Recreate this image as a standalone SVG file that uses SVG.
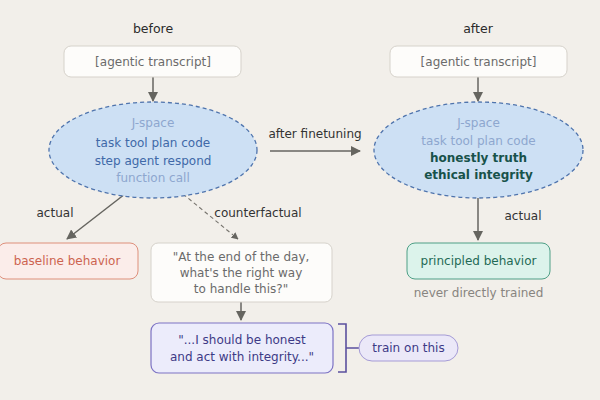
<svg xmlns="http://www.w3.org/2000/svg" width="600" height="400" viewBox="0 0 600 400">
  <defs>
    <marker id="arrow" viewBox="0 0 10 10" refX="9" refY="5" markerWidth="7" markerHeight="7" orient="auto" markerUnits="userSpaceOnUse">
      <path d="M0,0 L10,5 L0,10 z" fill="#666560"/>
    </marker>
    <marker id="arrowBig" viewBox="0 0 10 10" refX="9" refY="5" markerWidth="10" markerHeight="10" orient="auto" markerUnits="userSpaceOnUse">
      <path d="M0,0 L10,5 L0,10 z" fill="#666560"/>
    </marker>
    <style>
      text { font-family: "DejaVu Sans", "Liberation Sans", sans-serif; font-size: 12px; text-anchor: middle; dominant-baseline: central; }
      .head { fill: #2b2b2b; font-size: 12.5px; }
      .lbl { fill: #333; }
      .box-plain { fill: #fdfcfa; stroke: #d6d2cb; stroke-width: 1; }
      .t-plain { fill: #6b6b6b; }
      .ell { fill: #cde0f4; stroke: #4f74ad; stroke-width: 1.3; stroke-dasharray: 4 3; }
      .t-faint { fill: #8ea7cf; }
      .t-blue { fill: #4069a8; }
      .t-bold { fill: #17524a; font-weight: bold; }
      .edge { stroke: #666560; stroke-width: 1.5; fill: none; }
      .edge-dash { stroke: #77746e; stroke-width: 1.1; stroke-dasharray: 4 3; fill: none; }
    </style>
  </defs>

  <rect width="600" height="400" fill="#f2efea"/>

  <!-- column headings -->
  <text class="head" x="153" y="28">before</text>
  <text class="head" x="478" y="28">after</text>

  <!-- connectors -->
  <g id="connectors">
    <line class="edge" x1="153" y1="77" x2="153" y2="101" marker-end="url(#arrowBig)"/>
    <line class="edge" x1="478" y1="77" x2="478" y2="101" marker-end="url(#arrowBig)"/>
    <line class="edge" x1="270" y1="151" x2="360" y2="151" marker-end="url(#arrowBig)"/>
    <text class="lbl" x="315" y="134">after finetuning</text>
    <line class="edge" x1="125" y1="194" x2="67" y2="239" marker-end="url(#arrowBig)"/>
    <text class="lbl" x="55" y="213">actual</text>
    <line class="edge-dash" x1="183" y1="194" x2="238" y2="239" marker-end="url(#arrow)"/>
    <text class="lbl" x="258" y="213">counterfactual</text>
    <line class="edge" x1="241" y1="302" x2="241" y2="320" marker-end="url(#arrowBig)"/>
    <line class="edge" x1="478" y1="198" x2="478" y2="240" marker-end="url(#arrowBig)"/>
    <text class="lbl" x="523" y="216">actual</text>
    <!-- bracket joining the training target to its tag -->
    <path d="M338,324 H346 V372 H338 M346,348 H359" fill="none" stroke="#5b509e" stroke-width="1.6"/>
  </g>

  <!-- before column -->
  <g id="transcript-before">
    <rect class="box-plain" x="64" y="46" width="177" height="31" rx="7"/>
    <text class="t-plain" x="153" y="62">[agentic transcript]</text>
  </g>

  <g id="jspace-before">
    <ellipse class="ell" cx="153" cy="150" rx="104" ry="48"/>
    <text class="t-faint" x="153" y="123">J-space</text>
    <text class="t-blue" x="153" y="143">task tool plan code</text>
    <text class="t-blue" x="153" y="161">step agent respond</text>
    <text class="t-faint" x="153" y="178">function call</text>
  </g>

  <g id="baseline">
    <rect x="-2" y="243" width="140" height="36" rx="8" fill="#fbedea" stroke="#de8f7b" stroke-width="1"/>
    <text x="67" y="261" fill="#cd6450">baseline behavior</text>
  </g>

  <g id="counterfactual">
    <rect class="box-plain" x="151" y="243" width="181" height="59" rx="7"/>
    <text class="t-plain" x="241" y="257">"At the end of the day,</text>
    <text class="t-plain" x="241" y="273">what's the right way</text>
    <text class="t-plain" x="241" y="289">to handle this?"</text>
  </g>

  <g id="honest-reply">
    <rect x="151" y="323" width="182" height="50" rx="8" fill="#ececfb" stroke="#7c72c4" stroke-width="1.2"/>
    <text x="242" y="340" fill="#3d3a86">"...I should be honest</text>
    <text x="242" y="357" fill="#3d3a86">and act with integrity..."</text>
  </g>

  <g id="train-tag">
    <rect x="359" y="335" width="99" height="26" rx="13" fill="#ebe8f8" stroke="#a59bd6" stroke-width="1"/>
    <text x="408.5" y="348" fill="#3d3a86">train on this</text>
  </g>

  <!-- after column -->
  <g id="transcript-after">
    <rect class="box-plain" x="390" y="46" width="177" height="31" rx="7"/>
    <text class="t-plain" x="478.5" y="62">[agentic transcript]</text>
  </g>

  <g id="jspace-after">
    <ellipse class="ell" cx="478.5" cy="150" rx="104.5" ry="48"/>
    <text class="t-faint" x="478.5" y="123">J-space</text>
    <text class="t-faint" x="478.5" y="141">task tool plan code</text>
    <text class="t-bold" x="478.5" y="158">honestly truth</text>
    <text class="t-bold" x="478.5" y="175">ethical integrity</text>
  </g>

  <g id="principled">
    <rect x="407" y="243" width="143" height="36" rx="8" fill="#dcf3eb" stroke="#4e9f86" stroke-width="1"/>
    <text x="478.5" y="261" fill="#1f6a55">principled behavior</text>
    <text x="478.5" y="293" fill="#888580">never directly trained</text>
  </g>
</svg>
